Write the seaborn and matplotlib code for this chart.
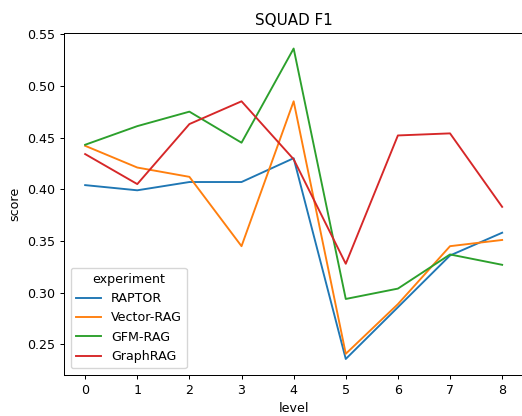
import matplotlib
matplotlib.use("Agg")
import matplotlib.pyplot as plt
import pandas as pd
import seaborn as sns

levels = [0, 1, 2, 3, 4, 5, 6, 7, 8]
experiments = ["RAPTOR", "Vector-RAG", "GFM-RAG", "GraphRAG"]

raptor = [0.404, 0.399, 0.407, 0.407, 0.430, 0.236, 0.286, 0.336, 0.358]
vector_rag = [0.442, 0.421, 0.412, 0.345, 0.485, 0.241, 0.289, 0.345, 0.351]
gfm_rag = [0.443, 0.461, 0.475, 0.445, 0.536, 0.294, 0.304, 0.337, 0.327]
graph_rag = [0.434, 0.405, 0.463, 0.485, 0.429, 0.328, 0.452, 0.454, 0.383]

series = {
    "RAPTOR": raptor,
    "Vector-RAG": vector_rag,
    "GFM-RAG": gfm_rag,
    "GraphRAG": graph_rag,
}

rows = []
for name in experiments:
    for lv, val in zip(levels, series[name]):
        rows.append({"level": lv, "score": val, "experiment": name})
df = pd.DataFrame(rows)

scale = 0.91
plt.rcParams.update({
    "font.size": 10 * scale,
    "axes.titlesize": 12 * scale,
    "lines.linewidth": 1.5 * scale,
    "axes.linewidth": 0.8 * scale,
    "xtick.major.size": 3.5 * scale,
    "ytick.major.size": 3.5 * scale,
    "xtick.major.width": 0.8 * scale,
    "ytick.major.width": 0.8 * scale,
    "legend.fontsize": 10 * scale,
    "legend.title_fontsize": 10 * scale,
})

fig, ax = plt.subplots(figsize=(5.22, 4.16), dpi=100)
fig.subplots_adjust(left=64.3 / 522, right=523 / 522, top=1 - 33 / 416, bottom=1 - 374.5 / 416)

sns.lineplot(data=df, x="level", y="score", hue="experiment",
             hue_order=experiments, ax=ax)
ax.set_title("SQUAD F1")
ax.legend(title="experiment", loc="lower left")
for side in ("top", "right", "left", "bottom"):
    ax.spines[side].set_visible(True)

fig.savefig("out.png", dpi=100)
